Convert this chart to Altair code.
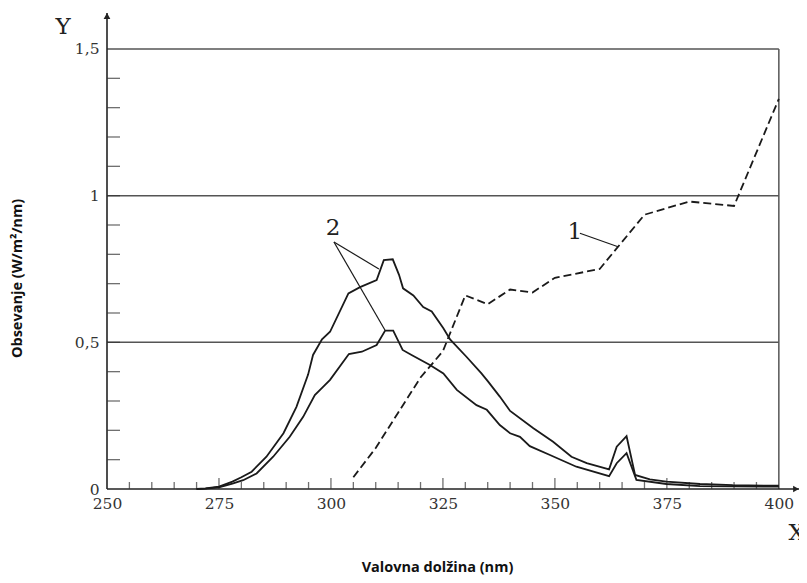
import altair as alt
import pandas as pd

# ---------------- data ----------------
# curve 2, upper solid line
up_x = [270, 272, 275, 278, 280, 282.3, 285.6, 289.4, 292.3, 294.9, 296, 298, 299.8,
        303.9, 306.5, 310.2, 311.8, 313.8, 315.2, 316.1, 318.4, 320.6, 322.5, 325.1,
        326.6, 330.3, 333.6, 335.1, 337.7, 340, 345.2, 349.6, 353.7, 357.1, 362.1,
        363.8, 366, 367.9, 371.2, 374.9, 382.4, 389.7, 400]
up_y = [0.0, 0.002, 0.008, 0.025, 0.04, 0.059, 0.11, 0.19, 0.28, 0.39, 0.457, 0.51, 0.536,
        0.667, 0.688, 0.712, 0.78, 0.783, 0.73, 0.684, 0.66, 0.62, 0.605, 0.548,
        0.51, 0.45, 0.394, 0.366, 0.315, 0.266, 0.207, 0.161, 0.11, 0.088, 0.067,
        0.144, 0.18, 0.048, 0.033, 0.025, 0.017, 0.013, 0.011]
# curve 2, lower solid line
lo_x = [270, 272, 275, 278, 280.4, 283.4, 287.1, 290.8, 293.8, 296.4, 298.3, 299.8,
        304, 306.9, 310.2, 312.1, 313.9, 316, 318, 322.1, 325.1, 328.1, 332.5, 334.8,
        337.7, 340, 342.2, 344.4, 348.9, 354.8, 362.1, 363.8, 366, 368.2, 374.9, 382.4, 400]
lo_y = [0.0, 0.001, 0.006, 0.018, 0.03, 0.053, 0.11, 0.178, 0.246, 0.32, 0.349, 0.372,
        0.46, 0.468, 0.491, 0.54, 0.54, 0.474, 0.457, 0.423, 0.394, 0.338, 0.286, 0.27,
        0.218, 0.19, 0.178, 0.146, 0.116, 0.076, 0.044, 0.088, 0.122, 0.031, 0.017, 0.01, 0.008]
# curve 1, dashed line
d_x = [305, 310, 315, 320, 325, 330, 335, 340, 345, 350, 360, 370, 380, 390, 400]
d_y = [0.04, 0.14, 0.26, 0.38, 0.47, 0.66, 0.63, 0.68, 0.67, 0.72, 0.75, 0.935, 0.98, 0.965, 1.33]

x_labels = [250, 275, 300, 325, 350, 375, 400]
y_labels = [0, 0.5, 1, 1.5]
x_minor = [v for v in range(255, 400, 5) if v % 25 != 0]
x_major = [275, 300, 325, 350, 375]
y_minor = [round(0.1 * i, 1) for i in range(1, 15)]
grid_y = [0.5, 1.0, 1.5]

X_MIN, X_MAX, X_END = 250, 400, 404.5
Y_MAX, Y_END = 1.5, 1.6227

# annotations: (label, x, y)
ann_text = [("2", 300.45, 0.89), ("1", 354.46, 0.876), ("Y", 240.2, 1.575), ("X", 404.0, -0.15)]
# leader lines: (x, y, x2, y2)
leaders = [(300.67, 0.842, 310.71, 0.75), (300.67, 0.842, 312.05, 0.542),
           (355.58, 0.872, 364.1, 0.826)]

# ---------------- tables ----------------
df_up = pd.DataFrame({"x": up_x, "y": up_y})
df_lo = pd.DataFrame({"x": lo_x, "y": lo_y})
df_d = pd.DataFrame({"x": d_x, "y": d_y})
df_grid = pd.DataFrame({"x": [X_MIN] * 3, "x2": [X_MAX] * 3, "y": grid_y, "y2": grid_y})
df_right = pd.DataFrame({"x": [X_MAX], "x2": [X_MAX], "y": [0], "y2": [Y_MAX]})
df_axes = pd.DataFrame({"x": [X_MIN, X_MIN], "x2": [X_MIN, X_END], "y": [0, 0], "y2": [Y_END, 0]})
df_xmin = pd.DataFrame({"x": x_minor, "y": [0] * len(x_minor)})
df_xmaj = pd.DataFrame({"x": x_major, "y": [0] * len(x_major)})
df_ymin = pd.DataFrame({"x": [X_MIN] * len(y_minor), "y": y_minor})
df_arrow_up = pd.DataFrame({"x": [X_MIN], "y": [Y_END]})
df_arrow_rt = pd.DataFrame({"x": [X_END], "y": [0]})
df_txt = pd.DataFrame(ann_text, columns=["label", "x", "y"])
df_lead = pd.DataFrame(leaders, columns=["x", "y", "x2", "y2"])

SERIF = "DejaVu Serif"
SANS = "Open Sans"

xscale = alt.Scale(domain=[X_MIN, X_END], nice=False, zero=False)
yscale = alt.Scale(domain=[0, Y_END], nice=False, zero=False)
xaxis = alt.Axis(values=x_labels, domain=False, ticks=False, grid=False,
                 labelFont=SERIF, labelFontSize=15.5, labelColor="#333", labelPadding=7,
                 labelFlush=False,
                 title="Valovna dolžina (nm)", titleFont=SANS, titleFontSize=14.5,
                 titleFontWeight="bold", titleColor="#111",
                 titleX=330, titleY=78, titleAlign="center", titleBaseline="middle")
yaxis = alt.Axis(values=y_labels, domain=False, ticks=False, grid=False,
                 labelFont=SERIF, labelFontSize=15.5, labelColor="#333", labelPadding=8,
                 labelFlush=False,
                 labelExpr="replace(toString(datum.value), '.', ',')",
                 title="Obsevanje (W/m²/nm)", titleFont=SANS, titleFontSize=14.5,
                 titleFontWeight="bold", titleColor="#111",
                 titleX=-90, titleY=265, titleAngle=270, titleAlign="center",
                 titleBaseline="middle")


def X():
    return alt.X("x:Q", scale=xscale, axis=xaxis)


def Y():
    return alt.Y("y:Q", scale=yscale, axis=yaxis)


grid = alt.Chart(df_grid).mark_rule(color="#555", strokeWidth=1.5).encode(
    x=X(), x2="x2:Q", y=Y(), y2="y2:Q")
right = alt.Chart(df_right).mark_rule(color="#555", strokeWidth=1.5).encode(
    x=X(), x2="x2:Q", y=Y(), y2="y2:Q")
axes = alt.Chart(df_axes).mark_rule(color="#222", strokeWidth=1.6).encode(
    x=X(), x2="x2:Q", y=Y(), y2="y2:Q")
xt_min = alt.Chart(df_xmin).mark_tick(orient="vertical", size=7, thickness=1.3,
                                      yOffset=-3.5, color="#333").encode(x=X(), y=Y())
xt_maj = alt.Chart(df_xmaj).mark_tick(orient="vertical", size=11, thickness=1.3,
                                      yOffset=-5.5, color="#333").encode(x=X(), y=Y())
yt_min = alt.Chart(df_ymin).mark_tick(orient="horizontal", size=13, thickness=1.3,
                                      xOffset=6.5, color="#333").encode(x=X(), y=Y())
arrow_up = alt.Chart(df_arrow_up).mark_point(shape="triangle-up", size=45, filled=True,
                                             color="#222", opacity=1, yOffset=3).encode(x=X(), y=Y())
arrow_rt = alt.Chart(df_arrow_rt).mark_point(shape="triangle-right", size=45, filled=True,
                                             color="#222", opacity=1, xOffset=-3).encode(x=X(), y=Y())

line_up = alt.Chart(df_up).mark_line(color="#1a1a1a", strokeWidth=1.8).encode(x=X(), y=Y())
line_lo = alt.Chart(df_lo).mark_line(color="#1a1a1a", strokeWidth=1.8).encode(x=X(), y=Y())
line_d = alt.Chart(df_d).mark_line(color="#1a1a1a", strokeWidth=1.8,
                                   strokeDash=[8, 4]).encode(x=X(), y=Y())
lead = alt.Chart(df_lead).mark_rule(color="#1a1a1a", strokeWidth=1.2).encode(
    x=X(), x2="x2:Q", y=Y(), y2="y2:Q")
txt = alt.Chart(df_txt).mark_text(font=SERIF, fontSize=23, color="#222",
                                  align="center", baseline="middle").encode(
    x=X(), y=Y(), text="label:N")

chart = alt.layer(grid, right, axes, xt_min, xt_maj, yt_min, arrow_up, arrow_rt,
                  line_up, line_lo, line_d, lead, txt).properties(
    width=692, height=476,
    padding={"left": 99, "top": 5, "right": 0, "bottom": 86},
    autosize=alt.AutoSizeParams(type="none"),
    background="white",
).configure_view(stroke=None)

chart.save("out.html", embed_options={"renderer": "svg", "actions": False})
